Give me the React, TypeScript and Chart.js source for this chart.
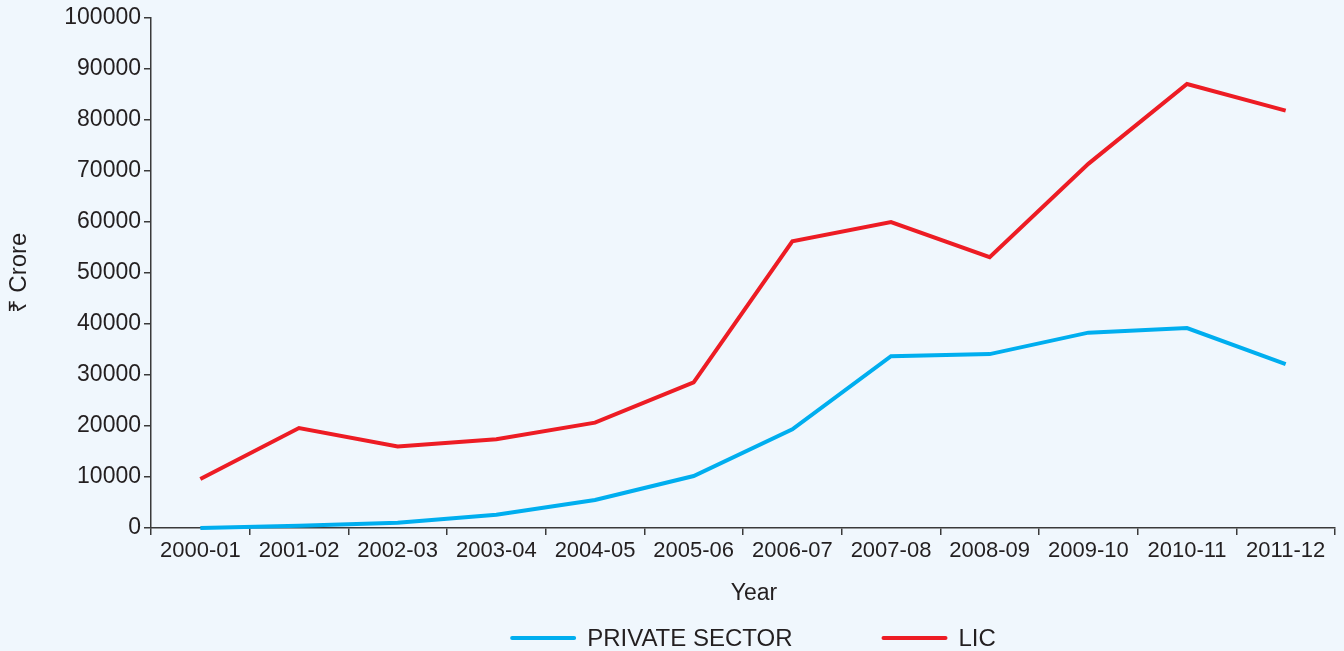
import React, { useEffect, useRef } from "react";
import { Chart, registerables } from "chart.js";

Chart.register(...registerables);

const categories = [
  "2000-01", "2001-02", "2002-03", "2003-04", "2004-05", "2005-06",
  "2006-07", "2007-08", "2008-09", "2009-10", "2010-11", "2011-12",
];
const privateSector = [0, 450, 1050, 2600, 5500, 10200, 19350, 33700, 34100, 38300, 39200, 32150];
const lic = [9600, 19600, 16000, 17400, 20650, 28560, 56200, 60000, 53100, 71400, 87060, 81850];
const seriesNames = ["PRIVATE SECTOR", "LIC"];
const yMin = 0;
const yMax = 100000;
const yStep = 10000;
const xTitle = "Year";
const yTitle = "₹ Crore";

const FONT = "'Liberation Sans', Arial, Helvetica, sans-serif";
const BG = "#f0f7fd";
const AXIS = "#3a3a3a";
const TEXT = "#231f20";
const BLUE = "#00aeef";
const RED = "#ed1c24";

export default function App() {
  const ref = useRef<HTMLCanvasElement | null>(null);

  useEffect(() => {
    const canvas = ref.current;
    if (!canvas) return;

    const bgPlugin = {
      id: "bg",
      beforeDraw(chart: any) {
        const ctx = chart.ctx;
        ctx.save();
        ctx.fillStyle = BG;
        ctx.fillRect(0, 0, chart.width, chart.height);
        ctx.restore();
      },
    };

    const legendPlugin = {
      id: "customLegend",
      afterDraw(chart: any) {
        const ctx = chart.ctx;
        const area = chart.chartArea;
        ctx.save();
        ctx.fillStyle = TEXT;
        ctx.textBaseline = "middle";
        // x axis title
        ctx.font = `23px ${FONT}`;
        ctx.textAlign = "center";
        ctx.fillText(xTitle, (area.left + area.right) / 2 + 11, area.bottom + 66);
        // legend
        ctx.font = `24px ${FONT}`;
        const lineW = 66;
        const gapText = 11;
        const itemGap = 89;
        const colors = [BLUE, RED];
        const widths = seriesNames.map((n) => lineW + gapText + ctx.measureText(n).width);
        const total = widths.reduce((a, b) => a + b, 0) + itemGap * (widths.length - 1);
        let x = (area.left + area.right) / 2 + 10 - total / 2;
        const y = area.bottom + 110;
        ctx.textAlign = "left";
        seriesNames.forEach((n, i) => {
          ctx.strokeStyle = colors[i];
          ctx.lineWidth = 4;
          ctx.lineCap = "round";
          ctx.beginPath();
          ctx.moveTo(x + 2, y);
          ctx.lineTo(x + lineW - 2, y);
          ctx.stroke();
          ctx.fillStyle = TEXT;
          ctx.fillText(n, x + lineW + gapText, y + 1);
          x += widths[i] + itemGap;
        });
        ctx.restore();
      },
    };

    const chart = new Chart(canvas, {
      type: "line",
      data: {
        labels: categories,
        datasets: [
          {
            label: seriesNames[0],
            data: privateSector,
            borderColor: BLUE,
            backgroundColor: BLUE,
            borderWidth: 4,
            pointRadius: 0,
            tension: 0,
            clip: false as any,
          },
          {
            label: seriesNames[1],
            data: lic,
            borderColor: RED,
            backgroundColor: RED,
            borderWidth: 4,
            pointRadius: 0,
            tension: 0,
            clip: false as any,
          },
        ],
      },
      options: {
        responsive: false,
        animation: false,
        layout: { padding: { top: 18, right: 9, left: 0, bottom: 83 } },
        plugins: {
          legend: { display: false },
          tooltip: { enabled: false },
        },
        scales: {
          x: {
            type: "category",
            offset: true,
            grid: {
              display: true,
              offset: true,
              drawOnChartArea: false,
              drawTicks: true,
              tickLength: 7,
              color: AXIS,
              lineWidth: 1.5,
            },
            border: { display: true, color: AXIS, width: 1.5 },
            ticks: {
              color: TEXT,
              font: { family: FONT, size: 22 },
              padding: 3,
              maxRotation: 0,
              autoSkip: false,
            },
            afterFit(scale: any) {
              scale.height = 40;
            },
          },
          y: {
            min: yMin,
            max: yMax,
            grid: {
              display: true,
              drawOnChartArea: false,
              drawTicks: true,
              tickLength: 7,
              color: AXIS,
              lineWidth: 1.5,
            },
            border: { display: true, color: AXIS, width: 1.5 },
            ticks: {
              stepSize: yStep,
              color: TEXT,
              font: { family: FONT, size: 23 },
              padding: 3,
              callback: (v: any) => String(v),
            },
            title: {
              display: true,
              text: yTitle,
              color: TEXT,
              font: { family: FONT, size: 24 },
              padding: { top: 5, bottom: 0 },
            },
            afterFit(scale: any) {
              scale.width = 151;
            },
          },
        },
      },
      plugins: [bgPlugin, legendPlugin],
    });

    return () => chart.destroy();
  }, []);

  return (
    <div style={{ position: "fixed", left: 0, top: 0, width: 1344, height: 651, background: BG }}>
      <canvas ref={ref} width={1344} height={651} style={{ display: "block", width: 1344, height: 651 }} />
    </div>
  );
}
